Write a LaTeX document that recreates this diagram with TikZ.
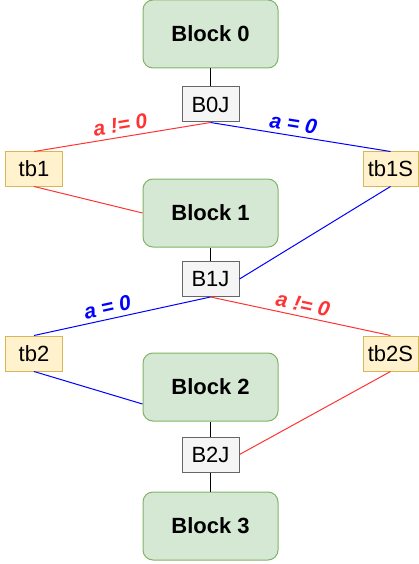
\documentclass[tikz,border=0pt]{standalone}
\usepackage{fontspec}
\setmainfont{Liberation Sans}
\definecolor{blkfill}{HTML}{D5E8D4}
\definecolor{blkdraw}{HTML}{82B366}
\definecolor{tbfill}{HTML}{FFF2CC}
\definecolor{tbdraw}{HTML}{D6B656}
\definecolor{jfill}{HTML}{F5F5F5}
\definecolor{jdraw}{HTML}{666666}
\definecolor{myred}{HTML}{FF3333}
\definecolor{myblue}{HTML}{0000FF}
\begin{document}
\begin{tikzpicture}[x=1pt,y=-1pt,
  block/.style={draw=blkdraw, fill=blkfill, rounded corners=10pt, minimum width=135pt, minimum height=68pt, inner sep=0pt, line width=1pt, font=\fontsize{22}{26}\selectfont\bfseries},
  joinbox/.style={draw=jdraw, fill=jfill, minimum width=57pt, minimum height=35pt, inner sep=0pt, line width=1pt, font=\fontsize{22}{26}\selectfont},
  tbox/.style={draw=tbdraw, fill=tbfill, minimum width=57pt, minimum height=34pt, inner sep=0pt, line width=1pt, font=\fontsize{22}{26}\selectfont},
  redline/.style={draw=myred, line width=1pt},
  blueline/.style={draw=myblue, line width=1pt},
  blackline/.style={draw=black, line width=1pt},
  lbl/.style={font=\fontsize{21}{25}\selectfont\bfseries\itshape, sloped, anchor=south, inner sep=4pt}
]
\useasboundingbox (0,0) rectangle (418,564);

\node[block] (b0) at (210.5,34) {Block 0};
\node[joinbox] (b0j) at (210.5,104.5) {B0J};
\node[tbox] (tb1) at (34,169) {tb1};
\node[tbox, minimum width=55pt] (tb1s) at (390.5,169) {tb1S};
\node[block] (b1) at (210.5,213) {Block 1};
\node[joinbox] (b1j) at (210.5,279) {B1J};
\node[tbox, minimum height=35pt] (tb2) at (34,353.5) {tb2};
\node[tbox, minimum width=55pt, minimum height=35pt] (tb2s) at (390.5,353.5) {tb2S};
\node[block] (b2) at (210.5,387) {Block 2};
\node[joinbox] (b2j) at (210.5,454.5) {B2J};
\node[block] (b3) at (210.5,526) {Block 3};

\draw[blackline] (b0) -- (b0j);
\draw[redline] (b0j.south) -- node[lbl, pos=0.5, text=myred] {a != 0} (tb1.north);
\draw[blueline] (b0j.south) -- node[lbl, pos=0.45, text=myblue] {a = 0} (tb1s.north);
\draw[redline] (tb1.south) -- (b1.west);
\draw[blueline] (tb1s.south) -- (b1j.east);
\draw[blackline] (b1) -- (b1j);
\draw[blueline] (b1j.south) -- node[lbl, pos=0.57, text=myblue] {a = 0} (tb2.north);
\draw[redline] (b1j.south) -- node[lbl, pos=0.5, text=myred] {a != 0} (tb2s.north);
\draw[blueline] (tb2.south) -- ([yshift=-17pt]b2.west);
\draw[redline] (tb2s.south) -- (b2j.east);
\draw[blackline] (b2) -- (b2j);
\draw[blackline] (b2j) -- (b3);
\end{tikzpicture}
\end{document}
